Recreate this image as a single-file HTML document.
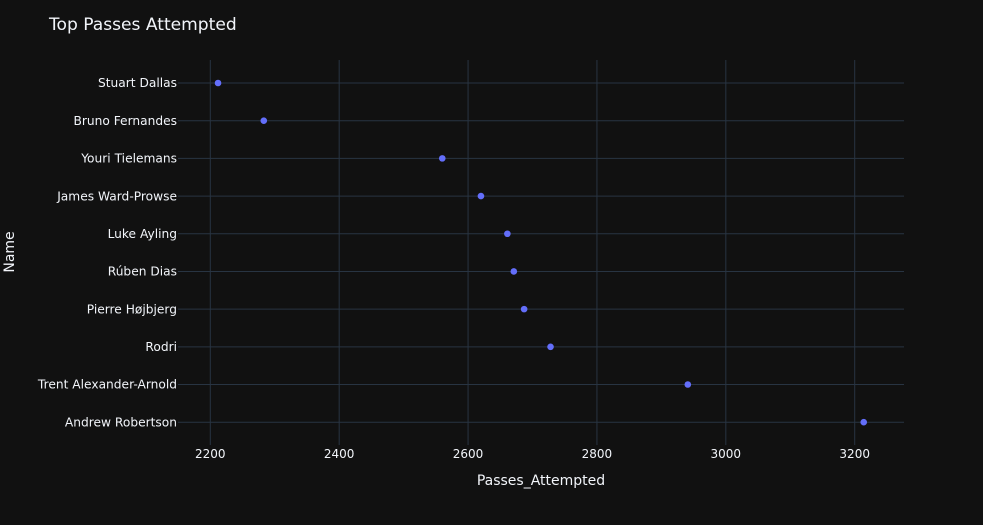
<!DOCTYPE html>
<html>
<head>
<meta charset="utf-8">
<style>
html,body{margin:0;padding:0;background:#111111;}
svg{display:block;font-family:"DejaVu Sans","Liberation Sans",sans-serif;}
</style>
</head>
<body>
<svg id="chart" width="983" height="525" viewBox="0 0 983 525" xmlns="http://www.w3.org/2000/svg">
<rect x="0" y="0" width="983" height="525" fill="#111111"/>
<text x="49" y="30" font-size="17.08" fill="#f2f5fa">Top Passes Attempted</text>
<g id="grid"></g>
<g id="xticks"></g>
<g id="yticks"></g>
<g id="points"></g>
<text x="541" y="485" font-size="14" fill="#f2f5fa" text-anchor="middle">Passes_Attempted</text>
<text transform="translate(14,252) rotate(-90)" font-size="14" fill="#f2f5fa" text-anchor="middle">Name</text>
</svg>
<script>
const names = ["Stuart Dallas","Bruno Fernandes","Youri Tielemans","James Ward-Prowse","Luke Ayling","Rúben Dias","Pierre Højbjerg","Rodri","Trent Alexander-Arnold","Andrew Robertson"];
const passes = [2212,2283,2560,2620,2661,2671,2687,2728,2941,3214];
const xTickValues = [2200,2400,2600,2800,3000,3200];

const NS = 'http://www.w3.org/2000/svg';
const plotLeft = 178, plotRight = 904, plotTop = 60, plotBottom = 445;
function xScale(v){ return 210.3 + (v - 2200) * 0.6444; }
function yScale(i){ return 83 + i * (422.2 - 83) / (names.length - 1); }
function make(tag, attrs, parent){
  const el = document.createElementNS(NS, tag);
  for (const k in attrs) el.setAttribute(k, attrs[k]);
  parent.appendChild(el);
  return el;
}
const grid = document.getElementById('grid');
const xticks = document.getElementById('xticks');
const yticks = document.getElementById('yticks');
const points = document.getElementById('points');

xTickValues.forEach(function(t){
  const x = xScale(t);
  const line = make('line', {x1:x, x2:x, y1:plotTop, y2:plotBottom, stroke:'#283442', 'stroke-width':1}, grid);
  
  
  const label = make('text', {x:x, y:458, 'font-size':12, fill:'#f2f5fa', 'text-anchor':'middle'}, xticks);
  
  
  label.textContent = String(t);
});

names.forEach(function(n, i){
  const y = yScale(i);
  const line = make('line', {x1:plotLeft, x2:plotRight, y1:y, y2:y, stroke:'#283442', 'stroke-width':1}, grid);
  
  
  const label = make('text', {x:177, y:y + 4.2, 'font-size':12.22, fill:'#f2f5fa', 'text-anchor':'end'}, yticks);
  
  
  label.textContent = n;
});

passes.forEach(function(v, i){
  const dot = make('circle', {cx:xScale(v), cy:yScale(i), r:3.3, fill:'#636efa'}, points);
  
  
});
</script>
</body>
</html>
